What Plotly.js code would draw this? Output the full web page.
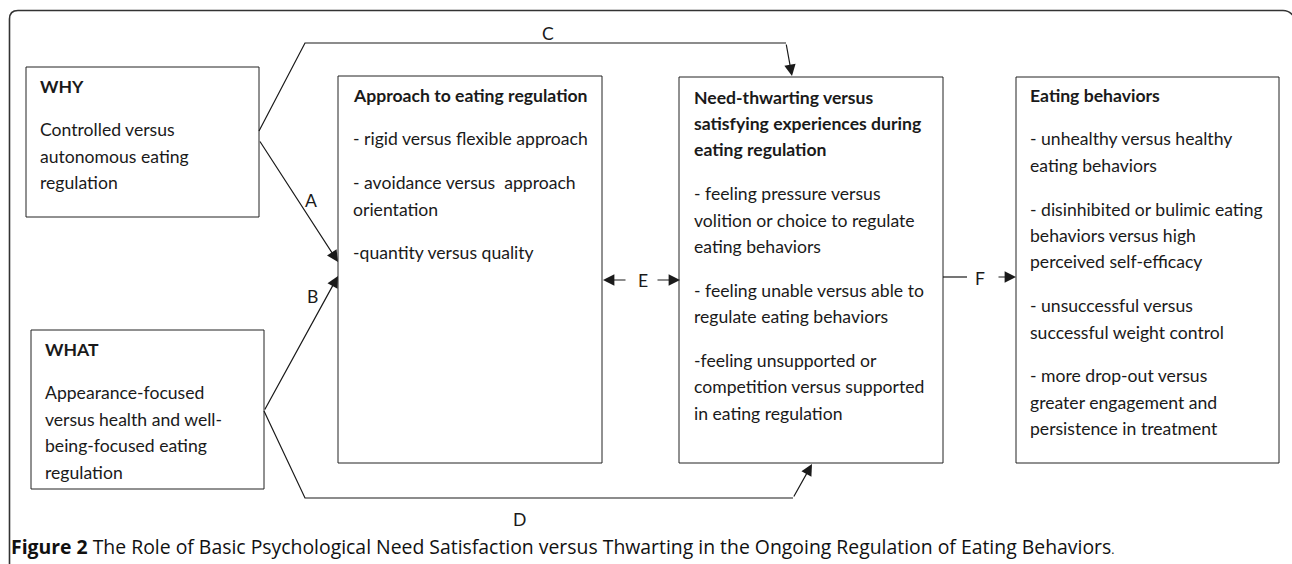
<!DOCTYPE html>
<html>
<head>
<meta charset="utf-8">
<script src="https://cdn.plot.ly/plotly-3.0.1.min.js"></script>
<style>html,body{margin:0;padding:0;background:#fff;}#chart{width:1292px;height:564px;}</style>
</head>
<body>
<div id="chart"></div>
<script>
// ---- content (text of the diagram) ----
const whyTitle = ['WHY'];
const whyBody = [['Controlled versus', 'autonomous eating', 'regulation']];
const whatTitle = ['WHAT'];
const whatBody = [['Appearance-focused', 'versus health and well-', 'being-focused eating', 'regulation']];
const approachTitle = ['Approach to eating regulation'];
const approachBody = [
  ['- rigid versus flexible approach'],
  ['- avoidance versus\u00a0 approach', 'orientation'],
  ['-quantity versus quality']
];
const needTitle = ['Need-thwarting versus', 'satisfying experiences during', 'eating regulation'];
const needBody = [
  ['- feeling pressure versus', 'volition or choice to regulate', 'eating behaviors'],
  ['- feeling unable versus able to', 'regulate eating behaviors'],
  ['-feeling unsupported or', 'competition versus supported', 'in eating regulation']
];
const eatingTitle = ['Eating behaviors'];
const eatingBody = [
  ['- unhealthy versus healthy', 'eating behaviors'],
  ['- disinhibited or bulimic eating', 'behaviors versus high', 'perceived self-efficacy'],
  ['- unsuccessful versus', 'successful weight control'],
  ['- more drop-out versus', 'greater engagement and', 'persistence in treatment']
];
const pathLabels = ['A', 'B', 'C', 'D', 'E', 'F'];
const captionLead = 'Figure 2';
const captionText = 'The Role of Basic Psychological Need Satisfaction versus Thwarting in the Ongoing Regulation of Eating Behaviors';

// ---- layout geometry ----
const W = 1292, H = 564;
const FONT = 'Lato, "Open Sans", sans-serif';
const FS = 17.6;
const INK = '#1a1a1a';
const LINE_STEP = 26.4;
const PARA_STEP = 43.8;

const boxes = [
  {x0: 26,   y0: 67,  x1: 259, y1: 217, tx: 39,   ty: 86,  title: whyTitle,      body: whyBody},
  {x0: 31,   y0: 330, x1: 264, y1: 489, tx: 44,   ty: 349, title: whatTitle,     body: whatBody},
  {x0: 338,  y0: 76,  x1: 602, y1: 463, tx: 352,  ty: 95,  title: approachTitle, body: approachBody},
  {x0: 679,  y0: 77,  x1: 943, y1: 463, tx: 693,  ty: 97,  title: needTitle,     body: needBody},
  {x0: 1016, y0: 77,  x1: 1279, y1: 463, tx: 1029, ty: 95, title: eatingTitle,   body: eatingBody}
];

const shapes = [];
const annotations = [];

function txt(x, y, text, opts) {
  annotations.push(Object.assign({
    xref: 'x', yref: 'y', x: x, y: y, text: text, showarrow: false,
    xanchor: 'left', yanchor: 'middle', align: 'left', borderpad: 0,
    font: {family: FONT, size: FS, color: INK}
  }, opts || {}));
}

boxes.forEach(b => {
  shapes.push({type: 'rect', xref: 'x', yref: 'y', x0: b.x0, y0: b.y0, x1: b.x1, y1: b.y1,
    line: {color: '#222', width: 1}, fillcolor: 'rgba(0,0,0,0)'});
  let y = b.ty;
  b.title.forEach((t, i) => {
    if (i > 0) y += LINE_STEP;
    txt(b.tx, y, '<b>' + t + '</b>');
  });
  b.body.forEach(par => {
    y += PARA_STEP;
    par.forEach((t, i) => {
      if (i > 0) y += LINE_STEP;
      txt(b.tx, y, t);
    });
  });
});

// outer rounded frame (open at the bottom)
shapes.push({type: 'path', xref: 'x', yref: 'y',
  path: 'M 9.5 570 L 9.5 19 Q 9.5 10.5 18 10.5 L 1283 10.5 Q 1290 10.5 1294 17',
  line: {color: '#333', width: 1.6}});

// connector polylines (segments without arrowheads)
const LW = 1.2;
shapes.push({type: 'path', xref: 'x', yref: 'y', path: 'M 259 131 L 305 43 L 786 43', line: {color: INK, width: LW}});
shapes.push({type: 'path', xref: 'x', yref: 'y', path: 'M 264 411 L 305 498 L 793 498', line: {color: INK, width: LW}});
shapes.push({type: 'line', xref: 'x', yref: 'y', x0: 943, y0: 277, x1: 967, y1: 277, line: {color: INK, width: LW}});

function arrow(ax, ay, x, y) {
  annotations.push({xref: 'x', yref: 'y', axref: 'x', ayref: 'y', x: x, y: y, ax: ax, ay: ay,
    text: '', showarrow: true, arrowhead: 2, arrowsize: 1.9, arrowwidth: LW, arrowcolor: INK, standoff: 0, startstandoff: 0});
}
arrow(786, 43, 792, 76);    // C
arrow(259, 140, 338, 262);  // A
arrow(264, 411, 338, 276);  // B
arrow(793, 498, 812, 464);  // D
arrow(627, 280, 603, 280);  // E left
arrow(656, 280, 680, 280);  // E right
arrow(997, 277, 1016, 277); // F

const labelPos = [[311, 200], [312, 296], [548, 33], [519, 519], [643, 280], [980, 278]];
pathLabels.forEach((l, i) => txt(labelPos[i][0], labelPos[i][1], l, {xanchor: 'center'}));

// caption
txt(10, 546, '<b>' + captionLead + '</b> ' + captionText + '<span style="font-size:12px">.</span>',
  {font: {family: '"Open Sans", Lato, sans-serif', size: 19.4, color: '#111'}});

const layout = {
  width: W, height: H,
  margin: {l: 0, r: 0, t: 0, b: 0},
  paper_bgcolor: '#fff', plot_bgcolor: '#fff',
  xaxis: {range: [0, W], visible: false, fixedrange: true},
  yaxis: {range: [H, 0], visible: false, fixedrange: true},
  showlegend: false,
  shapes: shapes,
  annotations: annotations
};

Plotly.newPlot('chart', [{x: [], y: [], type: 'scatter', mode: 'markers', hoverinfo: 'skip'}], layout, {staticPlot: true, displayModeBar: false});
</script>
</body>
</html>
